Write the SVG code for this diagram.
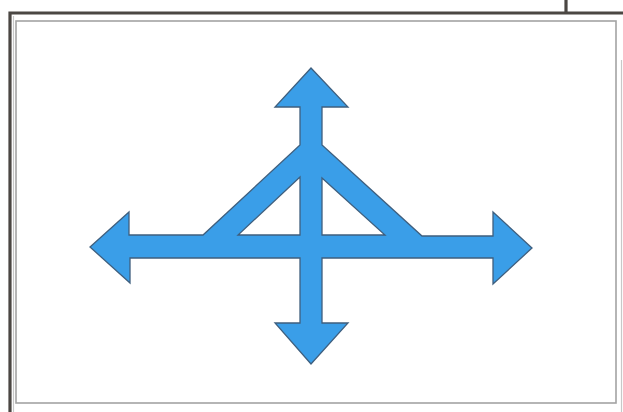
<svg xmlns="http://www.w3.org/2000/svg" width="623" height="412" viewBox="0 0 623 412">
  <style>
    .frame-outer { fill: none; stroke: #4b4743; stroke-width: 3.2; }
    .frame-inner { fill: none; stroke: #a3a3a3; stroke-width: 1.6; }
    .frame-faint { fill: none; stroke: #c8c8c8; stroke-width: 1.2; }
    .symbol { fill: #3a9ee8; stroke: #3f5f7e; stroke-width: 1.3; stroke-linejoin: miter; fill-rule: evenodd; }
  </style>
  <rect x="0" y="0" width="623" height="412" fill="#ffffff"/>
  <g id="frame">
    <path class="frame-outer" d="M623 13 H10 V412"/>
    <path class="frame-outer" d="M566 0 V13"/>
    <path class="frame-faint" d="M13.5 16 V412"/>
    <rect class="frame-inner" x="16" y="21" width="600" height="382"/>
    <path class="frame-faint" d="M621.5 60 V412"/>
  </g>
  <g id="symbol">
    <path class="symbol" d="M311 68 L348 107 L322 107 L322 145 L422 236 L493 236 L493 212 L532 248 L493 284 L493 258 L322 258 L322 323 L348 323 L311 364 L275 323 L300 323 L300 258 L130 258 L130 283 L90 247 L129 212 L129 235 L203 235 L300 145 L300 107 L275 107 Z
      M300 177 L238 235 L300 235 Z
      M322 178 L322 235 L385 235 Z"/>
  </g>
</svg>
